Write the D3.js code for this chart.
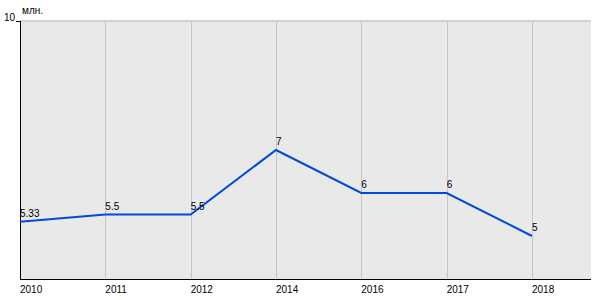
<!DOCTYPE html>
<html><head><meta charset="utf-8">
<script src="https://cdn.jsdelivr.net/npm/d3@7"></script>
<style>body{margin:0;background:#fff}svg{display:block}text{font-family:"Liberation Sans",Arial,sans-serif;font-size:10px;fill:#000}</style>
</head><body><svg id="c" width="600" height="300"></svg>
<script>
const categories = ["2010","2011","2012","2014","2016","2017","2018"];
const values = [5.33, 5.5, 5.5, 7, 6, 6, 5];
const valueLabels = ["5.33","5.5","5.5","7","6","6","5"];
const yTicks = [10];
const unit = "млн.";

(function(){
const svg = d3.select("#c");
const mL = 20, mR = 591, mT = 21, mB = 279;
const x = d3.scalePoint().domain(categories).range([mL, mL + 85.33*6]);
const y = d3.scaleLinear().domain([4,10]).range([mB, mT]);

svg.append("rect").attr("x",mL).attr("y",mT).attr("width",mR-mL).attr("height",mB-mT).attr("fill","#e9e9e9");
svg.append("line").attr("x1",mL).attr("x2",mR).attr("y1",mT).attr("y2",mT).attr("stroke","#d2d2d2").attr("stroke-width",2);

svg.append("g").selectAll("line").data(categories).join("line")
  .attr("x1",d=>Math.round(x(d))+0.5).attr("x2",d=>Math.round(x(d))+0.5)
  .attr("y1",mT).attr("y2",mB).attr("stroke","#c6c6c6").attr("stroke-width",1);

svg.append("line").attr("x1",mL+0.5).attr("x2",mL+0.5).attr("y1",mT).attr("y2",mB).attr("stroke","#000");
svg.append("line").attr("x1",mL).attr("x2",mR).attr("y1",mB+0.5).attr("y2",mB+0.5).attr("stroke","#000");
svg.append("g").selectAll("line").data(yTicks).join("line")
  .attr("x1",mL-4).attr("x2",mL).attr("y1",d=>y(d)+0.5).attr("y2",d=>y(d)+0.5).attr("stroke","#000");
svg.append("g").selectAll("text").data(yTicks).join("text")
  .attr("x",mL-5).attr("y",d=>y(d)).attr("text-anchor","end").text(d=>d);
svg.append("text").attr("x",mL+2).attr("y",14).text(unit);

svg.append("g").selectAll("text").data(categories).join("text")
  .attr("x",d=>x(d)).attr("y",293).text(d=>d);

const line = d3.line().x((d,i)=>x(categories[i])).y(d=>y(d));
svg.append("path").datum(values).attr("d",line).attr("fill","none").attr("stroke","#0048de").attr("stroke-width",2);

svg.append("g").selectAll("text").data(values).join("text")
  .attr("x",(d,i)=>x(categories[i])).attr("y",d=>y(d)-5).text((d,i)=>valueLabels[i]);
})();
</script></body></html>
